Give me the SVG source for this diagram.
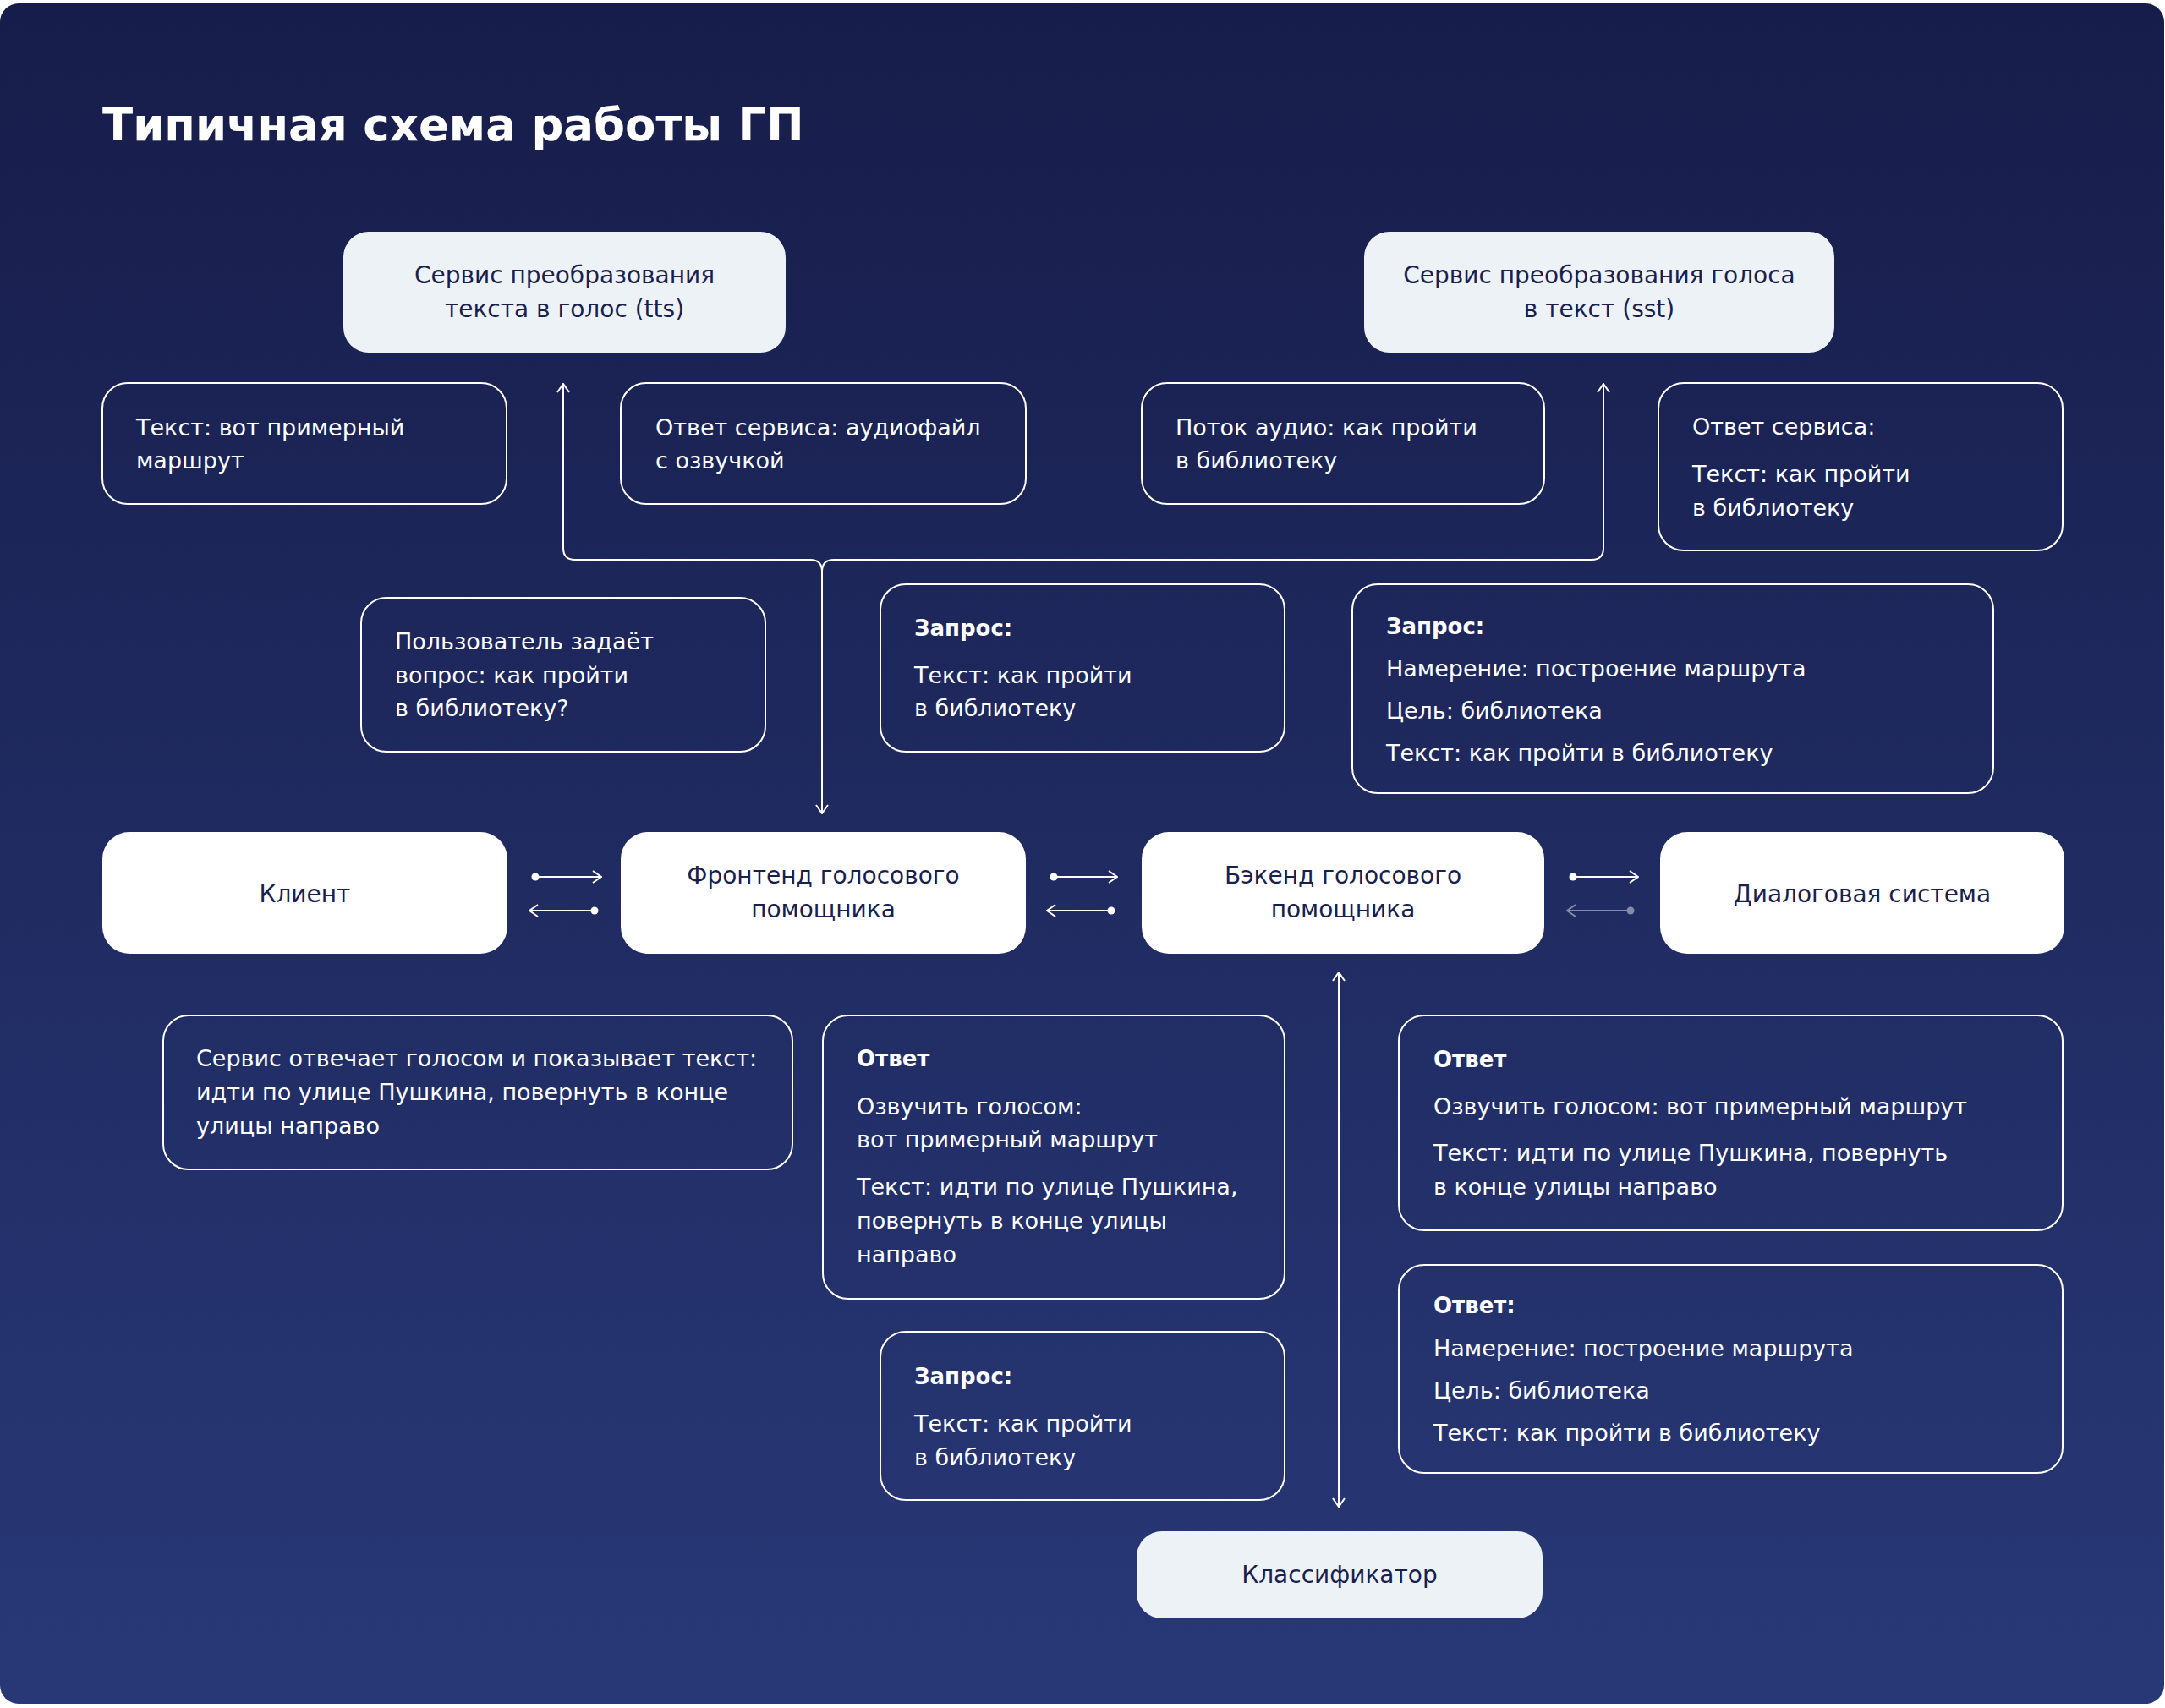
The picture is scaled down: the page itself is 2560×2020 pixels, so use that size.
<svg xmlns="http://www.w3.org/2000/svg" width="2560" height="2020" viewBox="0 0 2560 2020">
  <defs>
    <linearGradient id="bg" x1="0" y1="0" x2="0" y2="1">
      <stop offset="0" stop-color="#171d4a"/>
      <stop offset="1" stop-color="#283877"/>
    </linearGradient>
    <marker id="arr" viewBox="0 0 12 16" refX="11" refY="8" markerWidth="12" markerHeight="16" markerUnits="userSpaceOnUse" orient="auto-start-reverse">
      <path d="M1,1 L11,8 L1,15" fill="none" stroke="#ffffff" stroke-width="2"/>
    </marker>
    <marker id="dot" viewBox="0 0 10 10" refX="5" refY="5" markerWidth="10" markerHeight="10" markerUnits="userSpaceOnUse">
      <circle cx="5" cy="5" r="4.5" fill="#ffffff"/>
    </marker>
    <style>
      .title { font-family: "DejaVu Sans", "Liberation Sans", sans-serif; font-weight: bold; font-size: 53px; fill: #ffffff; }
      .note { fill: none; stroke: #ffffff; stroke-width: 2; }
      .main { fill: #ffffff; }
      .svc { fill: #edf2f7; }
      .t { font-family: "DejaVu Sans", "Liberation Sans", sans-serif; font-size: 27px; }
      .w { fill: #ffffff; }
      .d { fill: #1a1f4d; text-anchor: middle; font-size: 28px; }
      .b { font-weight: bold; font-size: 26px; }
      .line { fill: none; stroke: #ffffff; stroke-width: 2; }
    </style>
  </defs>

  <rect x="0" y="4" width="2559" height="2011" rx="22" fill="url(#bg)"/>

  <text class="title" x="121" y="166">Типичная схема работы ГП</text>

  <g id="connectors">
    <path class="line" d="M666,454 V648 Q666,662 680,662 H958 Q972,662 972,676 V962" marker-start="url(#arr)" marker-end="url(#arr)"/>
    <path class="line" d="M1896,454 V648 Q1896,662 1882,662 H986 Q972,662 972,676" marker-start="url(#arr)"/>
    <path class="line" d="M633,1037 H711" marker-start="url(#dot)" marker-end="url(#arr)"/>
    <path class="line" d="M703,1077 H626" marker-start="url(#dot)" marker-end="url(#arr)"/>
    <path class="line" d="M1246,1037 H1321" marker-start="url(#dot)" marker-end="url(#arr)"/>
    <path class="line" d="M1314,1077 H1238" marker-start="url(#dot)" marker-end="url(#arr)"/>
    <path class="line" d="M1860,1037 H1937" marker-start="url(#dot)" marker-end="url(#arr)"/>
    <path class="line" d="M1928,1077 H1853" opacity="0.45" marker-start="url(#dot)" marker-end="url(#arr)"/>
    <path class="line" d="M1583,1150 V1782" marker-start="url(#arr)" marker-end="url(#arr)"/>
  </g>

  <g id="tts">
    <rect class="svc" x="406" y="274" width="523" height="143" rx="30"/>
    <text class="t d" x="667.5" y="335">Сервис преобразования</text>
    <text class="t d" x="667.5" y="375">текста в голос (tts)</text>
  </g>

  <g id="stt">
    <rect class="svc" x="1613" y="274" width="556" height="143" rx="30"/>
    <text class="t d" x="1891" y="335">Сервис преобразования голоса</text>
    <text class="t d" x="1891" y="375">в текст (sst)</text>
  </g>

  <g id="note-tts-text">
    <rect class="note" x="121" y="453" width="478" height="143" rx="30"/>
    <text class="t w" x="161" y="515">Текст: вот примерный</text>
    <text class="t w" x="161" y="554">маршрут</text>
  </g>

  <g id="note-tts-answer">
    <rect class="note" x="734" y="453" width="479" height="143" rx="30"/>
    <text class="t w" x="775" y="515">Ответ сервиса: аудиофайл</text>
    <text class="t w" x="775" y="554">с озвучкой</text>
  </g>

  <g id="note-stt-stream">
    <rect class="note" x="1350" y="453" width="476" height="143" rx="30"/>
    <text class="t w" x="1390" y="515">Поток аудио: как пройти</text>
    <text class="t w" x="1390" y="554">в библиотеку</text>
  </g>

  <g id="note-stt-answer">
    <rect class="note" x="1961" y="453" width="478" height="198" rx="30"/>
    <text class="t w" x="2001" y="514">Ответ сервиса:</text>
    <text class="t w" x="2001" y="570">Текст: как пройти</text>
    <text class="t w" x="2001" y="610">в библиотеку</text>
  </g>

  <g id="note-user">
    <rect class="note" x="427" y="707" width="478" height="182" rx="30"/>
    <text class="t w" x="467" y="768">Пользователь задаёт</text>
    <text class="t w" x="467" y="808">вопрос: как пройти</text>
    <text class="t w" x="467" y="847">в библиотеку?</text>
  </g>

  <g id="note-request1">
    <rect class="note" x="1041" y="691" width="478" height="198" rx="30"/>
    <text class="t w b" x="1081" y="752">Запрос:</text>
    <text class="t w" x="1081" y="808">Текст: как пройти</text>
    <text class="t w" x="1081" y="847">в библиотеку</text>
  </g>

  <g id="note-request2">
    <rect class="note" x="1599" y="691" width="758" height="247" rx="30"/>
    <text class="t w b" x="1639" y="750">Запрос:</text>
    <text class="t w" x="1639" y="800">Намерение: построение маршрута</text>
    <text class="t w" x="1639" y="850">Цель: библиотека</text>
    <text class="t w" x="1639" y="900">Текст: как пройти в библиотеку</text>
  </g>

  <g id="client">
    <rect class="main" x="121" y="984" width="479" height="144" rx="32"/>
    <text class="t d" x="360.5" y="1067">Клиент</text>
  </g>

  <g id="frontend">
    <rect class="main" x="734" y="984" width="479" height="144" rx="32"/>
    <text class="t d" x="973.5" y="1045">Фронтенд голосового</text>
    <text class="t d" x="973.5" y="1085">помощника</text>
  </g>

  <g id="backend">
    <rect class="main" x="1350" y="984" width="476" height="144" rx="32"/>
    <text class="t d" x="1588" y="1045">Бэкенд голосового</text>
    <text class="t d" x="1588" y="1085">помощника</text>
  </g>

  <g id="dialog">
    <rect class="main" x="1963" y="984" width="478" height="144" rx="32"/>
    <text class="t d" x="2202" y="1067">Диалоговая система</text>
  </g>

  <g id="note-service-reply">
    <rect class="note" x="193" y="1201" width="744" height="182" rx="30"/>
    <text class="t w" x="232" y="1261">Сервис отвечает голосом и показывает текст:</text>
    <text class="t w" x="232" y="1301">идти по улице Пушкина, повернуть в конце</text>
    <text class="t w" x="232" y="1341">улицы направо</text>
  </g>

  <g id="note-answer-front">
    <rect class="note" x="973" y="1201" width="546" height="335" rx="30"/>
    <text class="t w b" x="1013" y="1261">Ответ</text>
    <text class="t w" x="1013" y="1318">Озвучить голосом:</text>
    <text class="t w" x="1013" y="1357">вот примерный маршрут</text>
    <text class="t w" x="1013" y="1413">Текст: идти по улице Пушкина,</text>
    <text class="t w" x="1013" y="1453">повернуть в конце улицы</text>
    <text class="t w" x="1013" y="1493">направо</text>
  </g>

  <g id="note-answer-back">
    <rect class="note" x="1654" y="1201" width="785" height="254" rx="30"/>
    <text class="t w b" x="1695" y="1262">Ответ</text>
    <text class="t w" x="1695" y="1318">Озвучить голосом: вот примерный маршрут</text>
    <text class="t w" x="1695" y="1373">Текст: идти по улице Пушкина, повернуть</text>
    <text class="t w" x="1695" y="1413">в конце улицы направо</text>
  </g>

  <g id="note-answer-class">
    <rect class="note" x="1654" y="1496" width="785" height="246" rx="30"/>
    <text class="t w b" x="1695" y="1553">Ответ:</text>
    <text class="t w" x="1695" y="1604">Намерение: построение маршрута</text>
    <text class="t w" x="1695" y="1654">Цель: библиотека</text>
    <text class="t w" x="1695" y="1704">Текст: как пройти в библиотеку</text>
  </g>

  <g id="note-request3">
    <rect class="note" x="1041" y="1575" width="478" height="199" rx="30"/>
    <text class="t w b" x="1081" y="1637">Запрос:</text>
    <text class="t w" x="1081" y="1693">Текст: как пройти</text>
    <text class="t w" x="1081" y="1733">в библиотеку</text>
  </g>

  <g id="classifier">
    <rect class="svc" x="1344" y="1811" width="480" height="103" rx="30"/>
    <text class="t d" x="1584" y="1872">Классификатор</text>
  </g>
</svg>
